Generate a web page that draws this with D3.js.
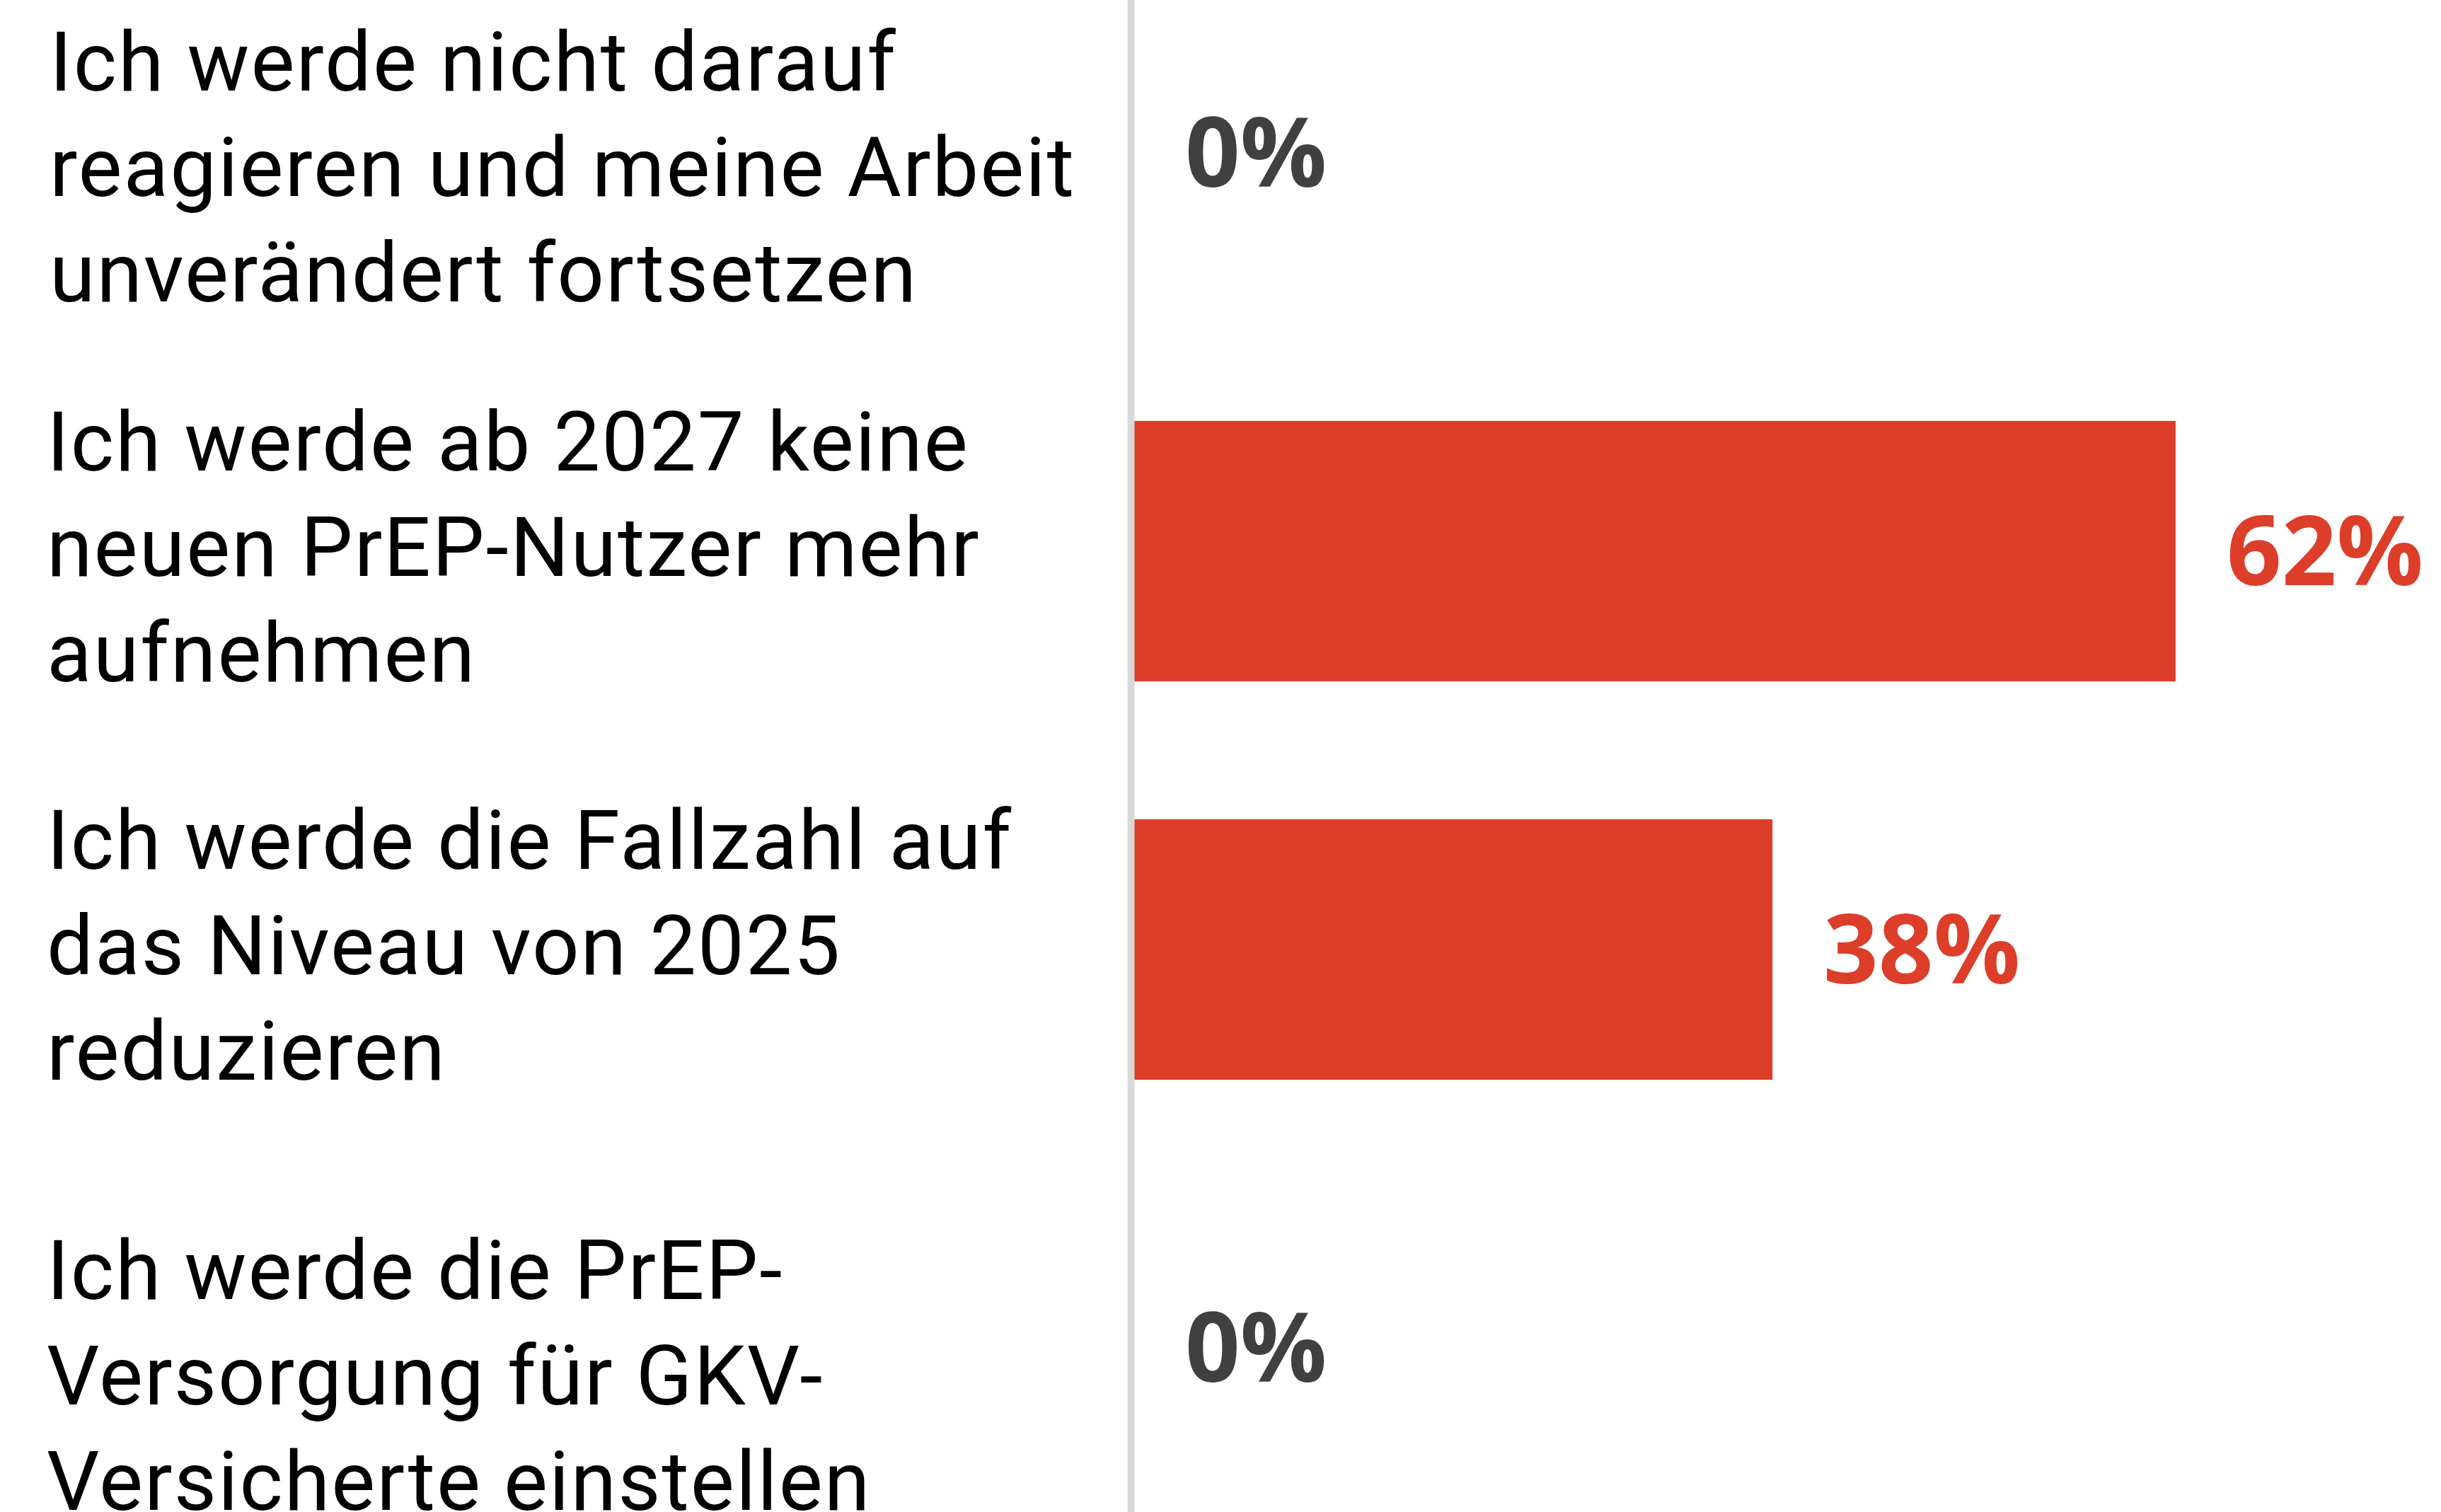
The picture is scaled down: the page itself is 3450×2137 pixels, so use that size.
<!DOCTYPE html>
<html>
<head>
<meta charset="utf-8">
<script src="https://cdn.jsdelivr.net/npm/d3@7"></script>
<style>
  html, body { margin: 0; padding: 0; background: #ffffff; overflow: hidden; }
  svg { display: block; }
</style>
</head>
<body>
<script>
// ---------- data ----------
const categories = [
  "Ich werde nicht darauf reagieren und meine Arbeit unverändert fortsetzen",
  "Ich werde ab 2027 keine neuen PrEP-Nutzer mehr aufnehmen",
  "Ich werde die Fallzahl auf das Niveau von 2025 reduzieren",
  "Ich werde die PrEP-Versorgung für GKV-Versicherte einstellen"
];
const categoryLines = [
  ["Ich werde nicht darauf", "reagieren und meine Arbeit", "unverändert fortsetzen"],
  ["Ich werde ab 2027 keine", "neuen PrEP-Nutzer mehr", "aufnehmen"],
  ["Ich werde die Fallzahl auf", "das Niveau von 2025", "reduzieren"],
  ["Ich werde die PrEP-", "Versorgung für GKV-", "Versicherte einstellen"]
];
const values = [0, 62, 38, 0];
const valueLabels = ["0%", "62%", "38%", "0%"];
const xDomain = [0, 100];

// ---------- layout ----------
const W = 3450, H = 2137;
const plotLeft = 1603, plotRight = 3977;
const barColor = "#DC3E2A";
const zeroLabelColor = "#404040";
const labelDy = [26, 0, 0, 45];   // per-row vertical nudge of category text
const labelDx = [4, 0, 0, 0];

const svg = d3.select("body").append("svg")
  .attr("width", W).attr("height", H);

const x = d3.scaleLinear().domain(xDomain).range([plotLeft, plotRight]);
const y = d3.scaleBand().domain(categories)
  .range([-65.5, 2186.5]).paddingInner(0.346).paddingOuter(0.173);

// bars
svg.append("g").selectAll("rect")
  .data(values)
  .join("rect")
  .attr("x", x(0))
  .attr("y", (d, i) => y(categories[i]))
  .attr("width", d => x(d) - x(0))
  .attr("height", y.bandwidth())
  .attr("fill", barColor);

// vertical axis line
const axis = svg.append("g")
  .attr("transform", `translate(${x(0) - 5},0)`)
  .call(d3.axisLeft(y).tickSize(0).tickSizeOuter(0).tickFormat(""));
axis.select(".domain").attr("stroke", "#D9D9D9").attr("stroke-width", 10);
axis.selectAll(".tick").remove();

// value labels
svg.append("g").selectAll("text")
  .data(values)
  .join("text")
  .attr("x", d => x(d) + 72)
  .attr("y", (d, i) => y(categories[i]) + y.bandwidth() / 2 + 48)
  .attr("font-family", "'Open Sans', Roboto, sans-serif")
  .attr("font-weight", 700)
  .attr("font-size", 136)
  .attr("fill", d => d > 0 ? barColor : zeroLabelColor)
  .text((d, i) => valueLabels[i]);

// category labels
const lineGap = 149;
const catG = svg.append("g");
categoryLines.forEach((lines, i) => {
  const cy = y(categories[i]) + y.bandwidth() / 2;
  const t = catG.append("text")
    .attr("font-family", "Roboto, 'Noto Sans', sans-serif")
    .attr("font-size", 117)
    .attr("letter-spacing", 2)
    .attr("fill", "#000000");
  lines.forEach((ln, j) => {
    t.append("tspan")
      .attr("x", 66 + labelDx[i])
      .attr("y", cy - 114 + labelDy[i] + j * lineGap)
      .text(ln);
  });
});
</script>
</body>
</html>
